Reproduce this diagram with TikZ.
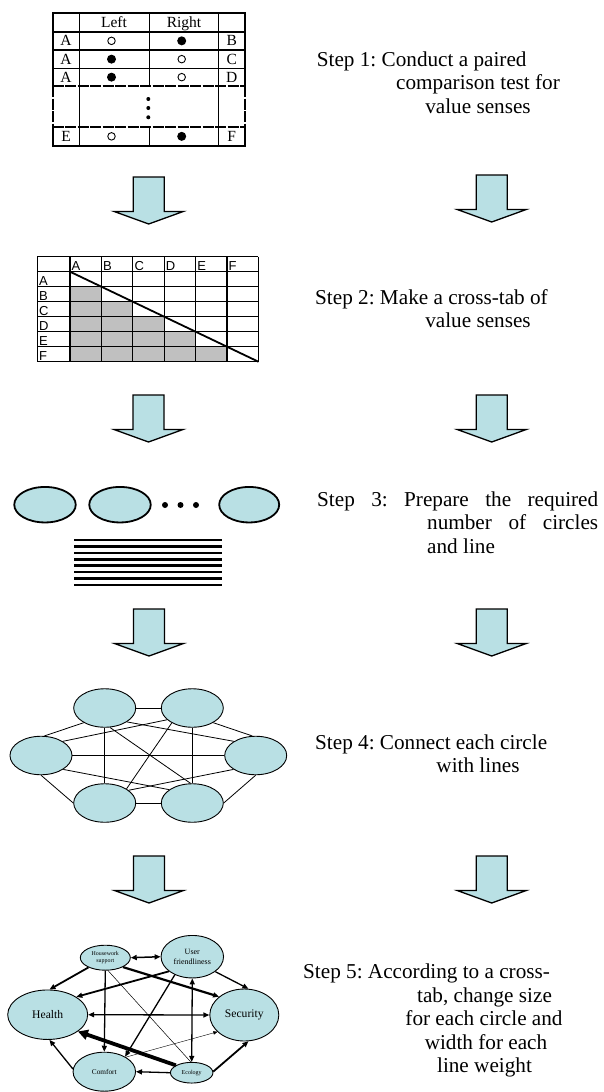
\documentclass[tikz,border=0pt]{standalone}
\usepackage{fontspec}
\setmainfont{Liberation Serif}
\newfontfamily\labsans{Liberation Sans}
\usetikzlibrary{shapes.geometric,arrows.meta}
\definecolor{lblue}{RGB}{185,224,228}
\definecolor{cellgray}{RGB}{192,192,192}
\frenchspacing
\newcommand{\stepfont}{\fontsize{21.2pt}{23.5pt}\selectfont}
\tikzset{
  blockarrow/.pic={\draw[line width=1.3pt,fill=lblue,line join=miter] (-15.5,0) -- (15.5,0) -- (15.5,34.5) -- (34.5,34.5) -- (0,47) -- (-34.5,34.5) -- (-15.5,34.5) -- cycle;},
  steptext/.style={font=\stepfont, inner sep=0pt, anchor=base},
  tabtext/.style={font=\fontsize{15.5pt}{15.5pt}\selectfont, inner sep=0pt},
  opendot/.style={circle, draw, line width=0.9pt, minimum size=7.5pt, inner sep=0pt},
  fulldot/.style={circle, fill, minimum size=9pt, inner sep=0pt},
  smalldot/.style={circle, fill, minimum size=4pt, inner sep=0pt},
  middot/.style={circle, fill, minimum size=6pt, inner sep=0pt},
  xtext/.style={font=\labsans\fontsize{13pt}{13pt}\selectfont, inner sep=0pt, anchor=base west},
  ovA/.style={ellipse, draw, fill=lblue, line width=1.8pt, minimum width=61.5pt, minimum height=35.5pt, inner sep=0pt},
  ovB/.style={ellipse, draw, fill=lblue, line width=0.9pt, minimum width=62pt, minimum height=38.5pt, inner sep=0pt},
  ovC/.style={ellipse, draw, fill=lblue, line width=0.9pt, inner sep=0pt, align=center},
  edgefour/.style={line width=0.8pt},
  tabline/.style={line width=1.6pt, line cap=rect},
  tabdash/.style={line width=1.6pt, dash pattern=on 11pt off 1.5pt},
  lnk/.style={line width=#1, -{Triangle[length=6pt,width=5pt]}},
  lnkb/.style={line width=#1, {Triangle[length=6pt,width=5pt]}-{Triangle[length=6pt,width=5pt]}},
}
\begin{document}
\begin{tikzpicture}[x=1pt,y=-1pt]
\useasboundingbox (0,0) rectangle (603,1092);

% ---------- Step 1 table ----------
\foreach \yy in {12.7,31.7,50,68.3,146} \draw[tabline] (52.7,\yy) -- (245,\yy);
\foreach \yy in {86,126.7} \draw[tabdash] (52.7,\yy) -- (245,\yy);
\foreach \xx in {52.7,245} {
  \draw[tabline] (\xx,12.7) -- (\xx,86);
  \draw[tabdash] (\xx,86) -- (\xx,126.7);
  \draw[tabline] (\xx,126.7) -- (\xx,146);
}
\foreach \xx in {79.3,218.3} \draw[tabline] (\xx,12.7) -- (\xx,146);
\draw[tabline] (149.3,12.7) -- (149.3,86) (149.3,126.7) -- (149.3,146);

\node[tabtext, anchor=base] (hleft) at (114,27.3) {Left};
\node[tabtext, anchor=base] (hright) at (184,27.3) {Right};

\node[tabtext] (l1) at (66,40.85) {A};
\node[tabtext] (r1) at (231.7,40.85) {B};
\node[tabtext] (l2) at (66,59.15) {A};
\node[tabtext] (r2) at (231.7,59.15) {C};
\node[tabtext] (l3) at (66,77.15) {A};
\node[tabtext] (r3) at (231.7,77.15) {D};
\node[tabtext] (l4) at (66,136.35) {E};
\node[tabtext] (r4) at (231.7,136.35) {F};

\node[opendot] (c1l) at (111.5,40.85) {};
\node[fulldot] (c1r) at (181.7,40.85) {};
\node[fulldot] (c2l) at (111.5,59.15) {};
\node[opendot] (c2r) at (181.7,59.15) {};
\node[fulldot] (c3l) at (111.5,77.15) {};
\node[opendot] (c3r) at (181.7,77.15) {};
\node[opendot] (c4l) at (111.5,136.35) {};
\node[fulldot] (c4r) at (181.7,136.35) {};

\node[smalldot] (vd1) at (148.3,99) {};
\node[smalldot] (vd2) at (148.3,108) {};
\node[smalldot] (vd3) at (148.3,117.3) {};

% ---------- Step texts ----------
\node[steptext, anchor=base west] (s1a) at (316.7,66) {Step 1: Conduct a paired};
\node[steptext] (s1b) at (478,89.5) {comparison test for};
\node[steptext] (s1c) at (478,113) {value senses};

\node[steptext, anchor=base west] (s2a) at (315,304) {Step 2: Make a cross-tab of};
\node[steptext] (s2b) at (478,327.5) {value senses};

\node[steptext, anchor=base west] (s3a) at (317,506) {\hbox to 281pt{Step\hfill 3:\hfill Prepare\hfill the\hfill required}};
\node[steptext, anchor=base west] (s3b) at (427,529.5) {\hbox to 171pt{number\hfill of\hfill circles}};
\node[steptext, anchor=base west] (s3c) at (427,553) {and line};

\node[steptext, anchor=base west] (s4a) at (315,749) {Step 4: Connect each circle};
\node[steptext] (s4b) at (478,772.5) {with lines};

\node[steptext, anchor=base west] (s5a) at (303,978.3) {Step 5: According to a cross-};
\node[steptext] (s5b) at (484.5,1002.3) {tab, change size};
\node[steptext] (s5c) at (484,1025.7) {for each circle and};
\node[steptext] (s5d) at (486,1049.3) {width for each};
\node[steptext] (s5e) at (484.5,1072.7) {line weight};

% ---------- Block arrows ----------
\pic (a1l) at (148.7,177) {blockarrow};
\pic (a1r) at (491.7,175) {blockarrow};
\pic (a2l) at (148.5,395) {blockarrow};
\pic (a2r) at (491.7,395) {blockarrow};
\pic (a3l) at (149,609) {blockarrow};
\pic (a3r) at (491.7,609) {blockarrow};
\pic (a4l) at (149,856) {blockarrow};
\pic (a4r) at (491.7,856) {blockarrow};

% ---------- Step 2 cross-tab ----------
\foreach \r/\n in {2/1,3/2,4/3,5/4,6/5}
  \fill[cellgray] (70,256.7+15*\r) rectangle (70+31.4*\n,271.7+15*\r);
\foreach \k in {0,...,7} \draw[line width=1.2pt] (37.3,256.7+15*\k) -- (258.4,256.7+15*\k);
\draw[line width=1.2pt] (37.3,256.7) -- (37.3,361.7);
\foreach \k in {0,...,6} \draw[line width=1.2pt] (70+31.4*\k,256.7) -- (70+31.4*\k,361.7);
\draw[line width=1.8pt] (70,271.7) -- (258.4,361.7);
\foreach \c [count=\i] in {A,B,C,D,E,F} {
  \node[xtext] (xh\i) at (70+31.4*\i-31.4+1.5,270.3) {\c};
  \node[xtext] (xr\i) at (38.8,270.3+15*\i) {\c};
}

% ---------- Step 3 ----------
\node[ovA] (e1) at (45,504.7) {};
\node[ovA] (e2) at (120,504.7) {};
\node[ovA, minimum width=60pt] (e3) at (249.2,504.7) {};
\node[middot] (hd1) at (165,505) {};
\node[middot] (hd2) at (180.5,505) {};
\node[middot] (hd3) at (196,505) {};
\foreach \k in {0,...,7} \draw[line width=2.5pt] (74,540+6.43*\k) -- (222,540+6.43*\k);

% ---------- Step 4 ----------
\node[ovB] (tl) at (104.7,708) {};
\node[ovB] (tr) at (192.3,708) {};
\node[ovB] (lf) at (41,755.5) {};
\node[ovB] (rt) at (255.7,755.5) {};
\node[ovB] (bl) at (104.7,803) {};
\node[ovB] (br) at (192.3,803) {};
\draw[edgefour] (tl.0) -- (tr.180);
\draw[edgefour] (tl.215) -- (lf.80);
\draw[edgefour] (tl.-32) -- (rt.147);
\draw[edgefour] (tl.-75) -- (br.95);
\draw[edgefour] (tl.-90) -- (bl.90);
\draw[edgefour] (tr.205) -- (lf.33);
\draw[edgefour] (tr.-35) -- (rt.100);
\draw[edgefour] (tr.-90) -- (br.90);
\draw[edgefour] (tr.216.6) -- (bl.33.7);
\draw[edgefour] (lf.0) -- (rt.180);
\draw[edgefour] (lf.-90) -- (bl.180);
\draw[edgefour] (lf.-32) -- (br.150);
\draw[edgefour] (rt.212) -- (bl.28.5);
\draw[edgefour] (rt.-90) -- (br.0);
\draw[edgefour] (bl.0) -- (br.180);

% ---------- Step 5 ----------
\node[ovC, minimum width=50pt, minimum height=25pt, font=\fontsize{5.9pt}{7.5pt}\selectfont] (hs) at (105.3,957.7) {Housework\\support};
\node[ovC, minimum width=62.5pt, minimum height=42.5pt, font=\fontsize{8pt}{9.5pt}\selectfont] (uf) at (192.3,956.7) {User\\friendliness};
\node[ovC, minimum width=80pt, minimum height=49.5pt, font=\fontsize{11.6pt}{12pt}\selectfont] (he) at (47.7,1014.7) {Health};
\node[ovC, minimum width=69pt, minimum height=52pt, font=\fontsize{11.6pt}{12pt}\selectfont] (se) at (244.3,1015) {Security};
\node[ovC, minimum width=62.5pt, minimum height=39pt, font=\fontsize{7.3pt}{8pt}\selectfont] (co) at (104.3,1071.7) {Comfort};
\node[ovC, minimum width=42.5pt, minimum height=20.7pt, font=\fontsize{6pt}{7pt}\selectfont] (ec) at (191.7,1072.7) {Ecology};

\draw[lnkb=1.5pt] (hs.0) -- (uf.180);
\draw[lnk=1.8pt] (hs.210.6) -- (he.86);
\draw[lnk=2.2pt] (hs.-28.5) -- (se.144);
\draw[lnk=1.3pt] (hs.-90) -- (co.90);
\draw[line width=0.5pt] (hs.-78) -- (ec.95);
\draw[lnk=1.8pt] (uf.212) -- (he.32.7);
\draw[lnk=1.3pt] (uf.226.6) -- (co.36.4);
\draw[lnkb=1.3pt] (uf.-90) -- (ec.90);
\draw[lnk=1.3pt] (uf.-33.3) -- (se.81);
\draw[lnkb=1.3pt] (he.0) -- (se.180);
\draw[line width=3.8pt, -{Triangle[length=10pt,width=10pt]}] (ec.155) -- (he.-29.8);
\draw[lnk=1.3pt] (co.175) -- (he.-86);
\draw[lnk=1.3pt] (ec.180) -- (co.0);
\draw[lnk=1.8pt] (ec.3) -- (se.-81);
\draw[line width=0.4pt, -{Triangle[length=4pt,width=3.5pt]}] (co.34.8) -- (se.212.8);

\end{tikzpicture}
\end{document}
